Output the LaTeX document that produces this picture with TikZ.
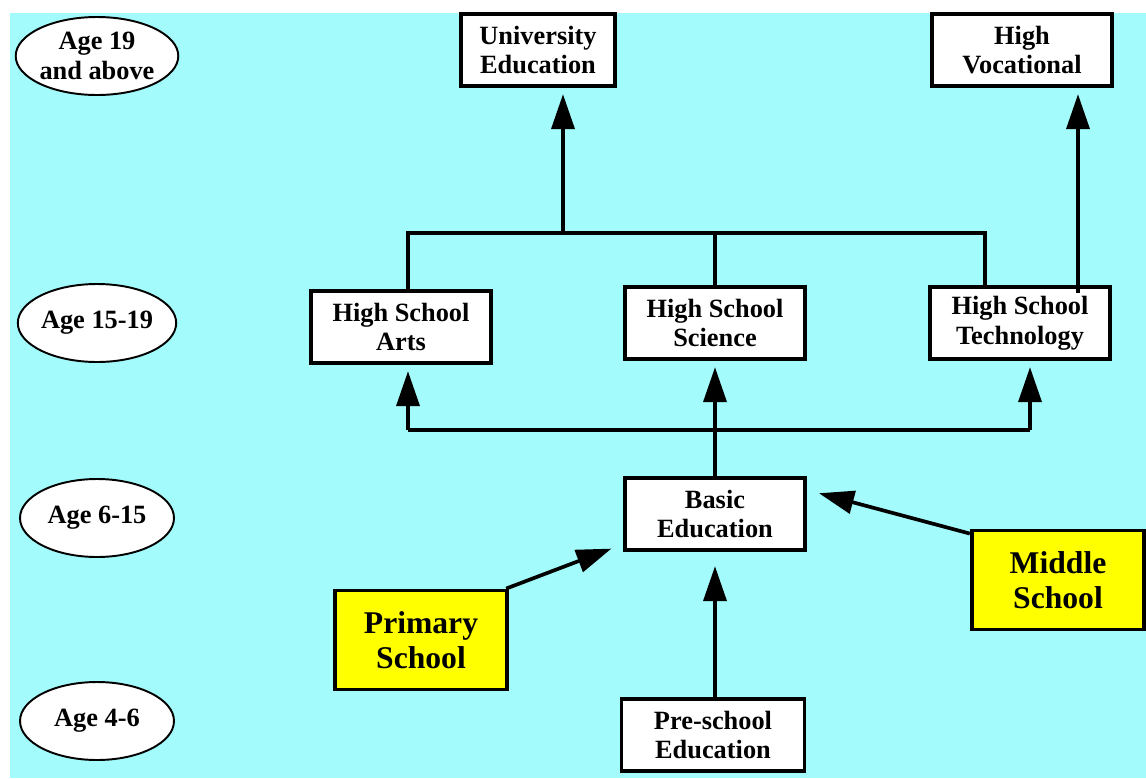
\documentclass[tikz,border=0pt]{standalone}
\usepackage{fontspec}
\setmainfont{Liberation Serif}
\usepackage{tikz}
\usetikzlibrary{shapes.geometric,arrows.meta}
\definecolor{bgcyan}{RGB}{163,251,251}
\definecolor{boxyellow}{RGB}{255,255,0}

\begin{document}
\begin{tikzpicture}[x=0.02cm,y=-0.02cm,
    box/.style={draw,line width=2.2pt,fill=white,align=center,font=\fontsize{15}{17}\selectfont\bfseries,minimum width=3.6cm,minimum height=1.45cm,inner sep=0},
    yellowbox/.style={box,fill=boxyellow,font=\fontsize{18}{20}\selectfont\bfseries,minimum width=3.45cm,minimum height=1.98cm},
    age/.style={draw,ellipse,line width=1.1pt,fill=white,align=center,font=\fontsize{15}{17}\selectfont\bfseries,minimum width=3.08cm,minimum height=1.56cm,inner sep=0},
    line/.style={line width=2.1pt},
    arr/.style={line,-{Triangle[length=0.7cm,width=0.46cm]},shorten >=0.12cm}]
    \useasboundingbox (0,0) rectangle (1146,778);
    \fill[bgcyan] (10,13) rectangle (1146,778);

    % ages
    \node(a19)[age] at (97,56) {Age 19\\and above};
    \node(a15)[age] at (97,323) {Age 15-19};
    \node(a6)[age] at (97,518) {Age 6-15};
    \node(a4)[age] at (97,721) {Age 4-6};

    % boxes
    \node(univ)[box,minimum width=3.08cm] at (538,50) {University\\Education};
    \node(voc)[box] at (1022,50) {High\\Vocational};
    \node(arts)[box] at (401,327) {High School\\Arts};
    \node(sci)[box] at (715,323) {High School\\Science};
    \node(tech)[box] at (1020,323) {High School\\Technology};
    \node(basic)[box] at (715,514) {Basic\\Education};
    \node(pre)[box,minimum width=3.66cm] at (713,735) {Pre-school\\Education};
    \node(prim)[yellowbox] at (421,640) {Primary\\School};
    \node(mid)[yellowbox] at (1058,580) {Middle\\School};

    \coordinate(topL) at (408,233);
    \coordinate(topM) at (563,233);
    \coordinate(topR) at (985,233);
    \coordinate(botL) at (408,430);
    \coordinate(botR) at (1030,430);
    \coordinate(vocx) at (1078,233);

    % upper bracket
    \draw[line] (topL |- arts.north) -- (topL) -- (topR) -- (topR |- tech.north);
    \draw[line] (topL -| sci.north) -- (sci.north);
    \draw[arr] (topM) -- (topM |- univ.south);
    \draw[arr] ([yshift=-0.16cm]tech.north -| vocx) -- (vocx |- voc.south);

    % lower bracket
    \draw[line] (botL) -- (botR);
    \draw[arr] (botL) -- (botL |- arts.south);
    \draw[arr] (botR) -- (botR |- tech.south);
    \draw[arr] (basic.north) -- (sci.south);

    % into basic education
    \draw[arr,shorten >=0.28cm] (pre.north -| basic.south) -- (basic.south);
    \draw[arr,shorten >=0.25cm] ([xshift=-0.06cm]prim.north east) -- ([yshift=0.16cm]basic.south west);
    \draw[arr,shorten >=0.25cm] ([yshift=-0.1cm]mid.north west) -- ([yshift=0.48cm]basic.east);
\end{tikzpicture}
\end{document}
